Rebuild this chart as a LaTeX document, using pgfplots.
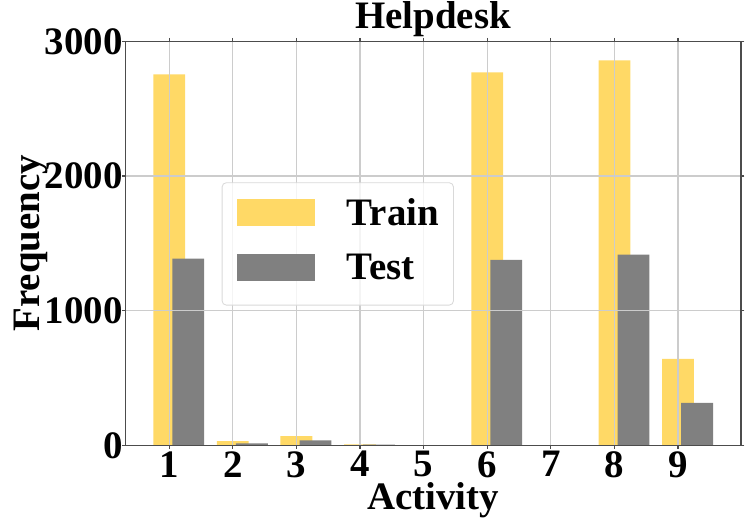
\documentclass[border=0pt]{standalone}
\usepackage{fontspec}
\setmainfont{Liberation Serif}
\usepackage{pgfplots}
\pgfplotsset{compat=1.18}
\definecolor{trainc}{RGB}{255,217,102}
\definecolor{testc}{RGB}{128,128,128}
\newcommand\bigf{\fontsize{28}{33.6}\selectfont\bfseries}
\begin{document}
\begin{tikzpicture}
\useasboundingbox (0,0) rectangle (537.84pt,380.16pt);
\begin{axis}[
  at={(90.2pt,59.5pt)}, anchor=south west,
  scale only axis, width=443.3pt, height=290.9pt,
  xmin=0.31, xmax=9.99, ymin=0, ymax=3000,
  xtick={1,2,3,4,5,6,7,8,9},
  ytick={0,1000,2000,3000},
  scaled y ticks=false,
  /pgf/number format/assume math mode=true,
  /pgf/number format/1000 sep={},
  tick label style={font=\bigf},
  xticklabel style={inner sep=0pt, yshift=-1.6pt},
  yticklabel style={inner sep=0pt, xshift=0.9pt},
  tick align=outside, major tick length=2.5pt,
  tick style={black!70, line width=0.8pt},
  axis line style={black!70, line width=0.8pt},
  grid=major,
  major grid style={black!20, line width=0.8pt},
  axis on top,
  title={Helpdesk},
  title style={font=\bigf, at={(axis description cs:0.5,1.0347)}, anchor=base, inner sep=0pt, yshift=-6.5pt},
  xlabel={Activity},
  xlabel style={font=\bigf, at={(axis description cs:0.5,-0.1598)}, anchor=base, inner sep=0pt},
  ylabel={Frequency},
  ylabel style={font=\bigf, at={(axis description cs:-0.1385,0.5)}, anchor=base, inner sep=0pt},
  legend cell align=left,
  legend image code/.code={\fill[#1, sharp corners, fill opacity=1] (0pt,-9.85pt) rectangle (56.4pt,9.85pt); \path (0pt,-15.75pt);},
  legend style={at={(axis description cs:0.1566,0.651)}, anchor=north west,
    draw=black!15, line width=0.6pt, rounded corners=3pt,
    fill=white, fill opacity=0.8, text opacity=1,
    inner xsep=10.5pt, inner ysep=11.1pt,
    font=\bigf,
    nodes={inner sep=0pt},
    row sep=14pt,
    /tikz/every odd column/.append style={column sep=22.8pt}},
]
\addplot[ybar, bar width=0.5, bar shift=0, fill=trainc, draw=none] coordinates {
(1,2755) (2,32) (3,69) (4,7) (5,0) (6,2770) (7,0) (8,2859) (9,643)};
\addlegendentry{Train}
\addplot[ybar, bar width=0.5, bar shift=0.3, fill=testc, draw=none] coordinates {
(1,1387) (2,15) (3,37) (4,5) (5,0) (6,1377) (7,0) (8,1417) (9,316)};
\addlegendentry{Test}
\end{axis}
\end{tikzpicture}
\end{document}
